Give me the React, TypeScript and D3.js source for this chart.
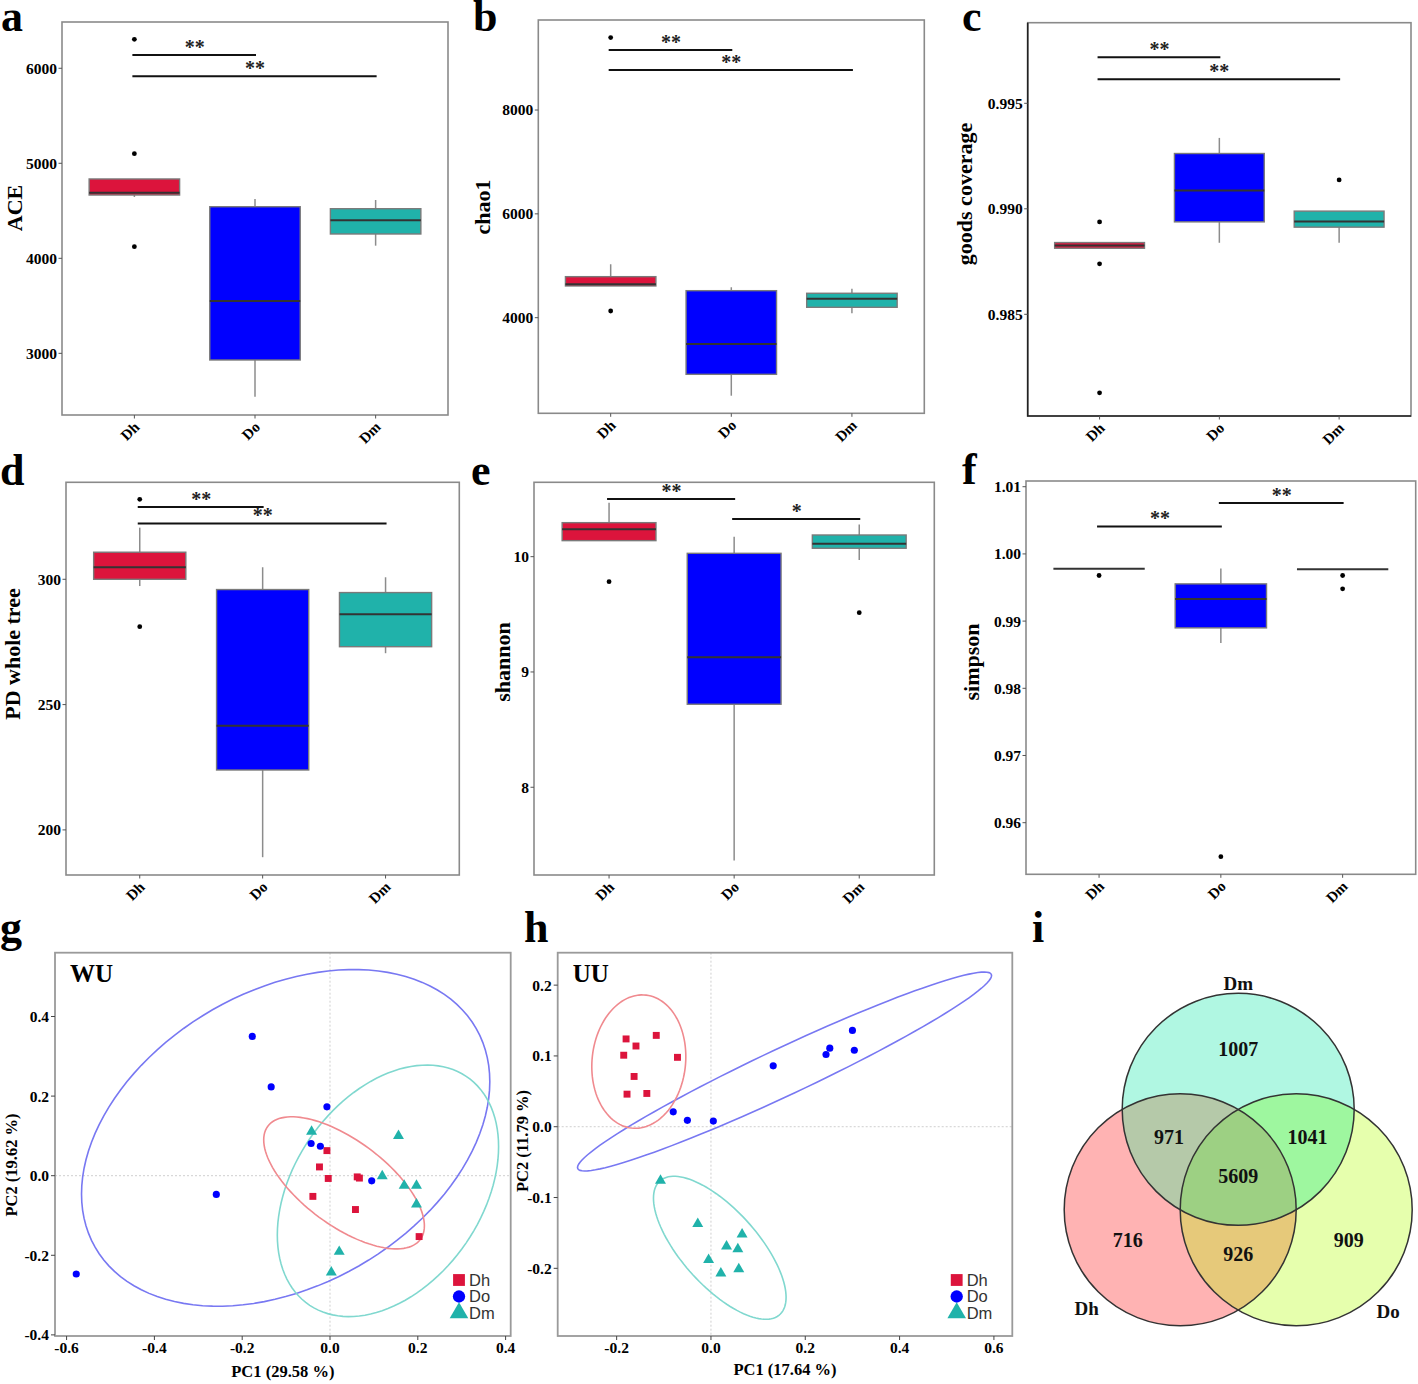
import * as d3 from 'd3'

// ---------- data ----------
const groups = ['Dh', 'Do', 'Dm']

type Box = { g: string; lo: number; q1: number; med: number; q3: number; hi: number; out: number[] }
type Bracket = { from: string; to: string; y: number; label: string }
type Pt = [number, number]
type Ell = { g: string; cx: number; cy: number; rx: number; ry: number; dyRight: number }

const aceBoxes: Box[] = [
  { g: 'Dh', lo: 4645, q1: 4666, med: 4690, q3: 4835, hi: 4835, out: [6305, 5101, 4122] },
  { g: 'Do', lo: 2543, q1: 2930, med: 3551, q3: 4543, hi: 4624, out: [] },
  { g: 'Dm', lo: 4133, q1: 4256, med: 4400, q3: 4522, hi: 4614, out: [] },
]
const aceSig: Bracket[] = [
  { from: 'Dh', to: 'Do', y: 6140, label: '**' },
  { from: 'Dh', to: 'Dm', y: 5916, label: '**' },
]
const aceTicks = [3000, 4000, 5000, 6000]

const chaoBoxes: Box[] = [
  { g: 'Dh', lo: 4611, q1: 4611, med: 4643, q3: 4790, hi: 5029, out: [9395, 4129] },
  { g: 'Do', lo: 2497, q1: 2909, med: 3493, q3: 4520, hi: 4586, out: [] },
  { g: 'Dm', lo: 4085, q1: 4200, med: 4366, q3: 4470, hi: 4559, out: [] },
]
const chaoSig: Bracket[] = [
  { from: 'Dh', to: 'Do', y: 9158, label: '**' },
  { from: 'Dh', to: 'Dm', y: 8773, label: '**' },
]
const chaoTicks = [4000, 6000, 8000]

const goodsBoxes: Box[] = [
  { g: 'Dh', lo: 0.98813, q1: 0.98813, med: 0.98826, q3: 0.9884, hi: 0.9884, out: [0.98938, 0.98739, 0.98128] },
  { g: 'Do', lo: 0.98839, q1: 0.98938, med: 0.99087, q3: 0.99262, hi: 0.99336, out: [] },
  { g: 'Dm', lo: 0.98839, q1: 0.98913, med: 0.9894, q3: 0.98989, hi: 0.98989, out: [0.99137] },
]
const goodsSig: Bracket[] = [
  { from: 'Dh', to: 'Do', y: 0.99718, label: '**' },
  { from: 'Dh', to: 'Dm', y: 0.99614, label: '**' },
]
const goodsTicks = [0.985, 0.99, 0.995]

const pdBoxes: Box[] = [
  { g: 'Dh', lo: 297.3, q1: 300, med: 304.8, q3: 310.8, hi: 320.6, out: [331.9, 281.1] },
  { g: 'Do', lo: 189.1, q1: 223.9, med: 241.6, q3: 295.9, hi: 304.8, out: [] },
  { g: 'Dm', lo: 270.5, q1: 273.1, med: 286, q3: 294.7, hi: 300.8, out: [] },
]
const pdSig: Bracket[] = [
  { from: 'Dh', to: 'Do', y: 328.8, label: '**' },
  { from: 'Dh', to: 'Dm', y: 322.3, label: '**' },
]
const pdTicks = [200, 250, 300]

const shannonBoxes: Box[] = [
  { g: 'Dh', lo: 10.139, q1: 10.139, med: 10.238, q3: 10.295, hi: 10.468, out: [9.783] },
  { g: 'Do', lo: 7.364, q1: 8.72, med: 9.128, q3: 10.029, hi: 10.173, out: [] },
  { g: 'Dm', lo: 9.971, q1: 10.073, med: 10.113, q3: 10.188, hi: 10.278, out: [9.514] },
]
const shannonSig: Bracket[] = [
  { from: 'Dh', to: 'Do', y: 10.5, label: '**' },
  { from: 'Do', to: 'Dm', y: 10.327, label: '*' },
]
const shannonTicks = [8, 9, 10]

const simpsonBoxes: Box[] = [
  { g: 'Dh', lo: 0.9978, q1: 0.9978, med: 0.9978, q3: 0.9978, hi: 0.9978, out: [0.99679] },
  { g: 'Do', lo: 0.98676, q1: 0.98899, med: 0.9933, q3: 0.99554, hi: 0.99783, out: [0.95494] },
  { g: 'Dm', lo: 0.99772, q1: 0.99772, med: 0.99772, q3: 0.99772, hi: 0.99772, out: [0.99679, 0.9948] },
]
const simpsonSig: Bracket[] = [
  { from: 'Dh', to: 'Do', y: 1.00408, label: '**' },
  { from: 'Do', to: 'Dm', y: 1.00759, label: '**' },
]
const simpsonTicks = [0.96, 0.97, 0.98, 0.99, 1.0, 1.01]

// PCoA, weighted UniFrac
const wuDh: Pt[] = [[-0.007, 0.063], [-0.024, 0.022], [-0.004, -0.007], [0.062, -0.003], [0.067, -0.006], [-0.039, -0.052], [0.058, -0.085], [0.203, -0.153]]
const wuDo: Pt[] = [[-0.177, 0.35], [-0.134, 0.223], [-0.007, 0.173], [-0.043, 0.081], [-0.022, 0.074], [0.095, -0.013], [-0.259, -0.047], [-0.578, -0.247]]
const wuDm: Pt[] = [[-0.042, 0.111], [0.156, 0.1], [0.119, -0.001], [0.169, -0.025], [0.197, -0.025], [0.197, -0.072], [0.021, -0.191], [0.003, -0.243]]
const wuEllipses: Ell[] = [
  { g: 'Do', cx: -0.101, cy: 0.095, rx: 0.465, ry: 0.423, dyRight: 0.141 },
  { g: 'Dm', cx: 0.132, cy: -0.038, rx: 0.252, ry: 0.316, dyRight: 0.111 },
  { g: 'Dh', cx: 0.032, cy: -0.018, rx: 0.183, ry: 0.166, dyRight: -0.108 },
]
const wuXTicks = [-0.6, -0.4, -0.2, 0, 0.2, 0.4]
const wuYTicks = [-0.4, -0.2, 0, 0.2, 0.4]

// PCoA, unweighted UniFrac
const uuDh: Pt[] = [[-0.18, 0.124], [-0.159, 0.114], [-0.185, 0.101], [-0.116, 0.129], [-0.071, 0.098], [-0.163, 0.071], [-0.178, 0.046], [-0.136, 0.047]]
const uuDo: Pt[] = [[-0.08, 0.021], [-0.05, 0.009], [0.005, 0.008], [0.132, 0.086], [0.244, 0.102], [0.252, 0.111], [0.3, 0.136], [0.304, 0.108]]
const uuDm: Pt[] = [[-0.107, -0.076], [-0.028, -0.137], [0.066, -0.152], [0.033, -0.169], [0.057, -0.173], [-0.005, -0.188], [0.021, -0.207], [0.059, -0.201]]
const uuEllipses: Ell[] = [
  { g: 'Do', cx: 0.156, cy: 0.078, rx: 0.439, ry: 0.1405, dyRight: 0.1356 },
  { g: 'Dm', cx: 0.0187, cy: -0.171, rx: 0.1406, ry: 0.101, dyRight: -0.07 },
  { g: 'Dh', cx: -0.153, cy: 0.092, rx: 0.0997, ry: 0.0942, dyRight: 0.007 },
]
const uuXTicks = [-0.2, 0, 0.2, 0.4, 0.6]
const uuYTicks = [-0.2, -0.1, 0, 0.1, 0.2]

// Venn (OTU counts)
const vennRegions = [
  { sets: ['Dm'], n: 1007 },
  { sets: ['Dh'], n: 716 },
  { sets: ['Do'], n: 909 },
  { sets: ['Dh', 'Dm'], n: 971 },
  { sets: ['Do', 'Dm'], n: 1041 },
  { sets: ['Dh', 'Do'], n: 926 },
  { sets: ['Dh', 'Do', 'Dm'], n: 5609 },
]

// ---------- style ----------
const SERIF = '"Liberation Serif", "Times New Roman", serif'
const SANS = '"Liberation Sans", Arial, sans-serif'
const boxFill: Record<string, string> = { Dh: '#dc143c', Do: '#0000ff', Dm: '#20b2aa' }
const ptFill: Record<string, string> = { Dh: '#dc143c', Do: '#0000ff', Dm: '#20b2aa' }
const ellStroke: Record<string, string> = { Dh: '#f08a8f', Do: '#7878f2', Dm: '#80d8cf' }
const fmt = d3.formatLocale({ decimal: '.', thousands: ',', grouping: [3], currency: ['', ''], minus: '-' }).format

type Frame = { x0: number; x1: number; y0: number; y1: number }

interface BoxCfg extends Frame {
  domain: [number, number]
  ticks: number[]
  tickFmt: string
  title: string
  titleX: number
  titleY: number
  darkAxes?: boolean
}

const BoxPanel = ({ cfg, boxes, sig }: { cfg: BoxCfg; boxes: Box[]; sig: Bracket[] }) => {
  const x = d3.scalePoint<string>().domain(groups).range([cfg.x0, cfg.x1]).padding(0.6)
  const y = d3.scaleLinear().domain(cfg.domain).range([cfg.y1, cfg.y0])
  const bw = x.step() * 0.75
  const f = fmt(cfg.tickFmt)
  return (
    <g>
      <rect x={cfg.x0} y={cfg.y0} width={cfg.x1 - cfg.x0} height={cfg.y1 - cfg.y0} fill="none" stroke="#8a8a8a" strokeWidth={1.6} />
      {cfg.darkAxes && (
        <path d={`M${cfg.x0},${cfg.y0}V${cfg.y1}H${cfg.x1}`} fill="none" stroke="#222" strokeWidth={1.6} />
      )}
      {/* y axis */}
      {cfg.ticks.map((t) => (
        <g key={t}>
          <line x1={cfg.x0 - 3.5} x2={cfg.x0} y1={y(t)} y2={y(t)} stroke="#555" strokeWidth={1} />
          <text x={cfg.x0 - 5} y={y(t)} dy="0.35em" textAnchor="end" fontSize={15.5} fontWeight="bold" fontFamily={SERIF}>
            {f(t)}
          </text>
        </g>
      ))}
      <text
        transform={`translate(${cfg.titleX},${cfg.titleY}) rotate(-90)`}
        textAnchor="middle"
        fontSize={22}
        fontWeight="bold"
        fontFamily={SERIF}
      >
        {cfg.title}
      </text>
      {/* x axis */}
      {groups.map((g) => (
        <g key={g}>
          <line x1={x(g)} x2={x(g)} y1={cfg.y1} y2={cfg.y1 + 3.5} stroke="#555" strokeWidth={1} />
          <text
            transform={`translate(${(x(g) as number) + 6},${cfg.y1 + 13}) rotate(-45)`}
            textAnchor="end"
            fontSize={15}
            fontWeight="bold"
            fontFamily={SERIF}
          >
            {g}
          </text>
        </g>
      ))}
      {/* boxes */}
      {boxes.map((b) => {
        const cx = x(b.g) as number
        return (
          <g key={b.g}>
            <line x1={cx} x2={cx} y1={y(b.lo)} y2={y(b.q1)} stroke="#8c8c8c" strokeWidth={1.5} />
            <line x1={cx} x2={cx} y1={y(b.q3)} y2={y(b.hi)} stroke="#8c8c8c" strokeWidth={1.5} />
            <rect
              x={cx - bw / 2}
              y={y(b.q3)}
              width={bw}
              height={Math.max(0, y(b.q1) - y(b.q3))}
              fill={boxFill[b.g]}
              stroke="#7a7a7a"
              strokeWidth={1.4}
            />
            <line x1={cx - bw / 2} x2={cx + bw / 2} y1={y(b.med)} y2={y(b.med)} stroke="#333" strokeWidth={2} />
            {b.out.map((o, i) => (
              <circle key={i} cx={cx} cy={y(o)} r={2.4} fill="#000" />
            ))}
          </g>
        )
      })}
      {/* significance */}
      {sig.map((s, i) => {
        const xa = x(s.from) as number
        const xb = x(s.to) as number
        return (
          <g key={i}>
            <line x1={xa - 2} x2={xb + 1} y1={y(s.y)} y2={y(s.y)} stroke="#111" strokeWidth={2} />
            <text x={(xa + xb) / 2} y={y(s.y) - 1} textAnchor="middle" fontSize={20} fontWeight="bold" fontFamily={SERIF} fill="#222">
              {s.label}
            </text>
          </g>
        )
      })}
    </g>
  )
}

interface PcoaCfg extends Frame {
  xDomain: [number, number]
  yDomain: [number, number]
  xTicks: number[]
  yTicks: number[]
  tag: string
  xTitle: string
  yTitle: string
  xTitleY: number
  yTitleX: number
  yTitleY: number
  legendX: number
}

const symType: Record<string, d3.SymbolType> = { Dh: d3.symbolSquare, Do: d3.symbolCircle, Dm: d3.symbolTriangle }
const symSize: Record<string, number> = { Dh: 48, Do: 40, Dm: 52 }
const legSize: Record<string, number> = { Dh: 140, Do: 120, Dm: 150 }

const PcoaPanel = ({ cfg, series, ellipses }: { cfg: PcoaCfg; series: { g: string; pts: Pt[] }[]; ellipses: Ell[] }) => {
  const x = d3.scaleLinear().domain(cfg.xDomain).range([cfg.x0, cfg.x1])
  const y = d3.scaleLinear().domain(cfg.yDomain).range([cfg.y1, cfg.y0])
  const f = fmt('.1f')
  const ang = d3.range(0, 361, 3).map((d) => (d * Math.PI) / 180)
  const line = d3.line<number>().curve(d3.curveLinearClosed)
  const ellPath = (e: Ell) => {
    const s = Math.sqrt(Math.max(0, e.ry * e.ry - e.dyRight * e.dyRight))
    return line
      .x((t) => x(e.cx + e.rx * Math.cos(t)))
      .y((t) => y(e.cy + e.dyRight * Math.cos(t) + s * Math.sin(t)))(ang)
  }
  const legY = [cfg.y1 - 56, cfg.y1 - 39.5, cfg.y1 - 23]
  return (
    <g>
      <line x1={x(0)} x2={x(0)} y1={cfg.y0} y2={cfg.y1} stroke="#cfcfcf" strokeWidth={1} strokeDasharray="2,2" />
      <line x1={cfg.x0} x2={cfg.x1} y1={y(0)} y2={y(0)} stroke="#cfcfcf" strokeWidth={1} strokeDasharray="2,2" />
      {ellipses.map((e) => (
        <path key={e.g} d={ellPath(e) || ''} fill="none" stroke={ellStroke[e.g]} strokeWidth={1.6} />
      ))}
      {series.map((s) =>
        s.pts.map((p, i) => (
          <path
            key={s.g + i}
            transform={`translate(${x(p[0])},${y(p[1])})`}
            d={d3.symbol().type(symType[s.g]).size(symSize[s.g])() || ''}
            fill={ptFill[s.g]}
          />
        ))
      )}
      <rect x={cfg.x0} y={cfg.y0} width={cfg.x1 - cfg.x0} height={cfg.y1 - cfg.y0} fill="none" stroke="#9a9a9a" strokeWidth={1.8} />
      {cfg.xTicks.map((t) => (
        <g key={t}>
          <line x1={x(t)} x2={x(t)} y1={cfg.y1} y2={cfg.y1 + 4} stroke="#444" />
          <text x={x(t)} y={cfg.y1 + 17} textAnchor="middle" fontSize={15.5} fontWeight="bold" fontFamily={SERIF}>
            {f(t)}
          </text>
        </g>
      ))}
      {cfg.yTicks.map((t) => (
        <g key={t}>
          <line x1={cfg.x0 - 4} x2={cfg.x0} y1={y(t)} y2={y(t)} stroke="#444" />
          <text x={cfg.x0 - 6} y={y(t)} dy="0.35em" textAnchor="end" fontSize={15.5} fontWeight="bold" fontFamily={SERIF}>
            {f(t)}
          </text>
        </g>
      ))}
      <text x={cfg.x0 + 15} y={cfg.y0 + 29} fontSize={25} fontWeight="bold" fontFamily={SERIF}>
        {cfg.tag}
      </text>
      <text x={(cfg.x0 + cfg.x1) / 2} y={cfg.xTitleY} textAnchor="middle" fontSize={16.5} fontWeight="bold" fontFamily={SERIF}>
        {cfg.xTitle}
      </text>
      <text
        transform={`translate(${cfg.yTitleX},${cfg.yTitleY}) rotate(-90)`}
        textAnchor="middle"
        fontSize={16.5}
        fontWeight="bold"
        fontFamily={SERIF}
      >
        {cfg.yTitle}
      </text>
      {groups.map((g, i) => (
        <g key={g}>
          <path
            transform={`translate(${cfg.legendX},${legY[i]})`}
            d={d3.symbol().type(symType[g]).size(legSize[g])() || ''}
            fill={ptFill[g]}
          />
          <text x={cfg.legendX + 10} y={legY[i]} dy="0.36em" fontSize={16.5} fontFamily={SANS} fill="#333">
            {g}
          </text>
        </g>
      ))}
    </g>
  )
}

const vennAngle: Record<string, number> = { Dm: 90, Dh: 210, Do: 330 }
const vennName: Record<string, { a: number; d: number }> = { Dm: { a: 90, d: 1.66 }, Dh: { a: 221, d: 1.73 }, Do: { a: 318, d: 1.74 } }
const vennFill: Record<string, string> = {
  Dm: '#b0f7e2',
  Dh: '#ffb3b3',
  Do: '#e6ffad',
  DhDm: '#b5c9a9',
  DoDm: '#9ef79f',
  DhDo: '#e6c97a',
  DhDoDm: '#9dd083',
}

const Venn = () => {
  const R = 116
  const cx = 1238.2
  const cy = 1176.3
  const vx = d3.scaleLinear().domain([-1, 1]).range([cx - R, cx + R])
  const vy = d3.scaleLinear().domain([-1, 1]).range([cy + R, cy - R])
  const rad = (a: number) => (a * Math.PI) / 180
  const ctr = (g: string) => {
    const d = 1 / Math.sqrt(3)
    return [vx(d * Math.cos(rad(vennAngle[g]))), vy(d * Math.sin(rad(vennAngle[g])))]
  }
  const circ = (g: string, props: any = {}) => {
    const [x, y] = ctr(g)
    return <circle cx={x} cy={y} r={R} {...props} />
  }
  const labelPos = (sets: string[]) => {
    if (sets.length === 3) return [vx(0), vy(0)]
    if (sets.length === 1) {
      const a = rad(vennAngle[sets[0]])
      return [vx(1.1 * Math.cos(a)), vy(1.1 * Math.sin(a))]
    }
    const ex = groups.find((g) => !sets.includes(g)) as string
    const a = rad(vennAngle[ex] + 180)
    return [vx(0.69 * Math.cos(a)), vy(0.67 * Math.sin(a))]
  }
  return (
    <g>
      <defs>
        {groups.map((g) => (
          <clipPath key={g} id={`vclip-${g}`}>
            {circ(g)}
          </clipPath>
        ))}
      </defs>
      {circ('Dh', { fill: vennFill.Dh })}
      {circ('Do', { fill: vennFill.Do })}
      {circ('Dm', { fill: vennFill.Dm })}
      {circ('Dm', { fill: vennFill.DhDm, clipPath: 'url(#vclip-Dh)' })}
      {circ('Dm', { fill: vennFill.DoDm, clipPath: 'url(#vclip-Do)' })}
      {circ('Do', { fill: vennFill.DhDo, clipPath: 'url(#vclip-Dh)' })}
      <g clipPath="url(#vclip-Dh)">{circ('Dm', { fill: vennFill.DhDoDm, clipPath: 'url(#vclip-Do)' })}</g>
      {groups.map((g) => (
        <g key={g}>{circ(g, { fill: 'none', stroke: '#333', strokeWidth: 1.5 })}</g>
      ))}
      {vennRegions.map((r) => {
        const [x, y] = labelPos(r.sets)
        return (
          <text key={r.sets.join('')} x={x} y={y} dy="0.35em" textAnchor="middle" fontSize={20} fontWeight="bold" fontFamily={SERIF} fill="#111">
            {r.n}
          </text>
        )
      })}
      {groups.map((g) => {
        const p = vennName[g]
        return (
          <text
            key={g}
            x={vx(p.d * Math.cos(rad(p.a)))}
            y={vy(p.d * Math.sin(rad(p.a)))}
            dy="0.35em"
            textAnchor="middle"
            fontSize={19}
            fontWeight="bold"
            fontFamily={SERIF}
            fill="#111"
          >
            {g}
          </text>
        )
      })}
    </g>
  )
}

const letters = [
  { t: 'a', x: 1, y: 31 },
  { t: 'b', x: 473, y: 31 },
  { t: 'c', x: 962, y: 31 },
  { t: 'd', x: 0, y: 485 },
  { t: 'e', x: 471, y: 485 },
  { t: 'f', x: 962, y: 484 },
  { t: 'g', x: 0, y: 942 },
  { t: 'h', x: 524, y: 942 },
  { t: 'i', x: 1032, y: 942 },
]

export default function App() {
  return (
    <svg
      width={1418}
      height={1384}
      viewBox="0 0 1418 1384"
      style={{ position: 'absolute', left: 0, top: 0, background: '#fff' }}
    >
      <rect width={1418} height={1384} fill="#fff" />
      <BoxPanel
        cfg={{ x0: 62, x1: 448, y0: 22, y1: 415, domain: [2351, 6487], ticks: aceTicks, tickFmt: 'd', title: 'ACE', titleX: 22, titleY: 208 }}
        boxes={aceBoxes}
        sig={aceSig}
      />
      <BoxPanel
        cfg={{ x0: 538.3, x1: 924.3, y0: 20, y1: 413.3, domain: [2158, 9734], ticks: chaoTicks, tickFmt: 'd', title: 'chao1', titleX: 490, titleY: 207 }}
        boxes={chaoBoxes}
        sig={chaoSig}
      />
      <BoxPanel
        cfg={{ x0: 1027.7, x1: 1411, y0: 22.7, y1: 416, domain: [0.98018, 0.99882], ticks: goodsTicks, tickFmt: '.3f', title: 'goods coverage', titleX: 971.5, titleY: 194, darkAxes: true }}
        boxes={goodsBoxes}
        sig={goodsSig}
      />
      <BoxPanel
        cfg={{ x0: 66, x1: 459.3, y0: 482.3, y1: 875, domain: [182, 338.7], ticks: pdTicks, tickFmt: 'd', title: 'PD whole tree', titleX: 20, titleY: 654 }}
        boxes={pdBoxes}
        sig={pdSig}
      />
      <BoxPanel
        cfg={{ x0: 534, x1: 934.3, y0: 482.3, y1: 875, domain: [7.239, 10.645], ticks: shannonTicks, tickFmt: 'd', title: 'shannon', titleX: 510, titleY: 662 }}
        boxes={shannonBoxes}
        sig={shannonSig}
      />
      <BoxPanel
        cfg={{ x0: 1026, x1: 1415.7, y0: 481, y1: 874.3, domain: [0.95232, 1.01085], ticks: simpsonTicks, tickFmt: '.2f', title: 'simpson', titleX: 978.5, titleY: 662 }}
        boxes={simpsonBoxes}
        sig={simpsonSig}
      />
      <PcoaPanel
        cfg={{
          x0: 55, x1: 510.7, y0: 952.7, y1: 1336,
          xDomain: [-0.6264, 0.4116], yDomain: [-0.4028, 0.5603],
          xTicks: wuXTicks, yTicks: wuYTicks, tag: 'WU',
          xTitle: 'PC1 (29.58 %)', yTitle: 'PC2 (19.62 %)',
          xTitleY: 1377, yTitleX: 17, yTitleY: 1165, legendX: 459,
        }}
        series={[{ g: 'Dh', pts: wuDh }, { g: 'Do', pts: wuDo }, { g: 'Dm', pts: wuDm }]}
        ellipses={wuEllipses}
      />
      <PcoaPanel
        cfg={{
          x0: 557.7, x1: 1012.3, y0: 952.7, y1: 1336,
          xDomain: [-0.325, 0.639], yDomain: [-0.2956, 0.2458],
          xTicks: uuXTicks, yTicks: uuYTicks, tag: 'UU',
          xTitle: 'PC1 (17.64 %)', yTitle: 'PC2 (11.79 %)',
          xTitleY: 1375, yTitleX: 528, yTitleY: 1141, legendX: 956.7,
        }}
        series={[{ g: 'Dh', pts: uuDh }, { g: 'Do', pts: uuDo }, { g: 'Dm', pts: uuDm }]}
        ellipses={uuEllipses}
      />
      <Venn />
      {letters.map((l) => (
        <text key={l.t} x={l.x} y={l.y} fontSize={44} fontWeight="bold" fontFamily={SERIF}>
          {l.t}
        </text>
      ))}
    </svg>
  )
}
